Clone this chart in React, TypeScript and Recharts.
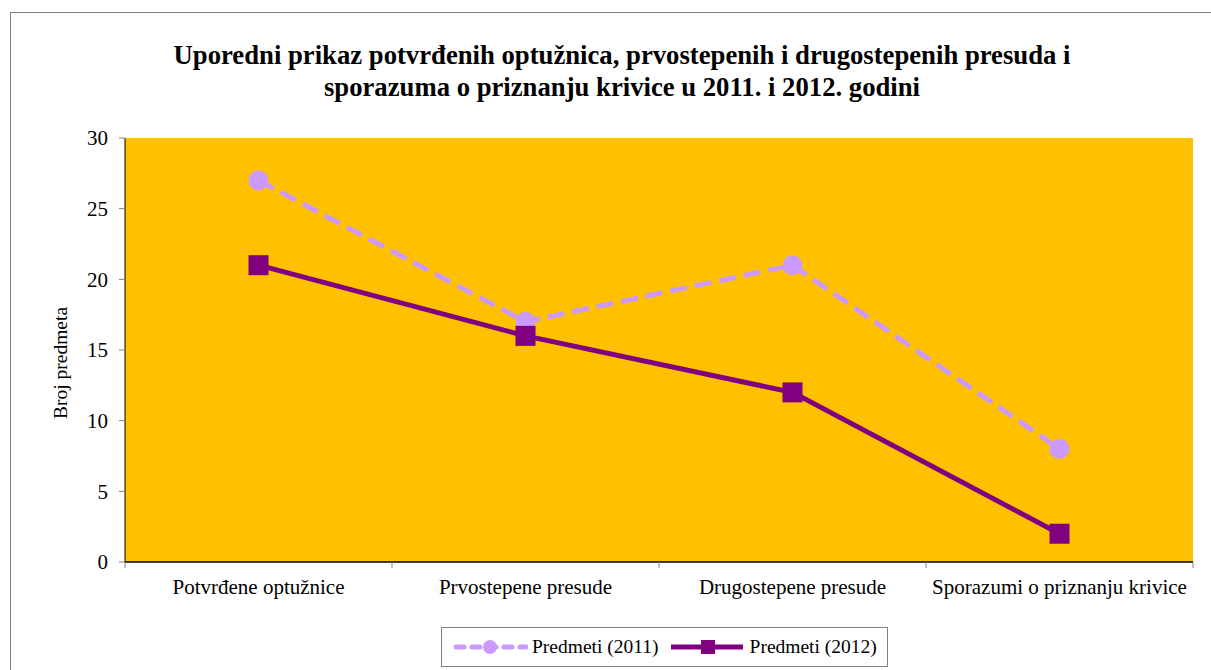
import { ComposedChart, Line, XAxis, YAxis, CartesianGrid, Legend } from 'recharts';

const categories = [
  'Potvrđene optužnice',
  'Prvostepene presude',
  'Drugostepene presude',
  'Sporazumi o priznanju krivice',
];
const predmeti2011 = [27, 17, 21, 8];
const predmeti2012 = [21, 16, 12, 2];
const yTicks = [0, 5, 10, 15, 20, 25, 30];

const data = categories.map((name, i) => ({
  name,
  y2011: predmeti2011[i],
  y2012: predmeti2012[i],
}));

const FONT = '"Liberation Serif", "Times New Roman", serif';
const W = 1211;
const H = 670;
const MARGIN = { top: 138, right: 18, bottom: 0, left: 0 };
const Y_AXIS_W = 125;
const X_AXIS_H = 108;
const PLOT_BOTTOM = H - MARGIN.bottom - X_AXIS_H;
const BAND = (W - MARGIN.left - MARGIN.right - Y_AXIS_W) / categories.length;

const LIGHT = '#CC99FF';
const DARK = '#800080';

function CategoryTick({ x, payload, index }: any) {
  const half = BAND / 2;
  return (
    <g>
      <line x1={x - half} x2={x - half} y1={PLOT_BOTTOM} y2={PLOT_BOTTOM + 6} stroke="#808080" />
      {index === categories.length - 1 && (
        <line x1={x + half} x2={x + half} y1={PLOT_BOTTOM} y2={PLOT_BOTTOM + 6} stroke="#808080" />
      )}
      <text x={x} y={PLOT_BOTTOM + 32} textAnchor="middle" fontSize={21} fontFamily={FONT} fill="#000">
        {payload.value}
      </text>
    </g>
  );
}

function YLabel({ viewBox }: any) {
  const cx = viewBox.x + 60;
  const cy = viewBox.y + viewBox.height / 2 + 13;
  return (
    <text
      x={cx}
      y={cy}
      transform={`rotate(-90 ${cx} ${cy})`}
      textAnchor="middle"
      dominantBaseline="central"
      fontSize={19.5}
      fontFamily={FONT}
      fill="#000"
    >
      Broj predmeta
    </text>
  );
}

function SquareDot({ cx, cy, index }: any) {
  return <rect key={`sq-${index}`} x={cx - 10} y={cy - 10} width={20} height={20} fill={DARK} />;
}

function CircleDot({ cx, cy, index }: any) {
  return <circle key={`ci-${index}`} cx={cx} cy={cy} r={10} fill={LIGHT} />;
}

function LegendBox({ payload }: any) {
  return (
    <div
      style={{
        display: 'flex',
        alignItems: 'center',
        height: 40,
        boxSizing: 'border-box',
        border: '1px solid #808080',
        background: '#fff',
        paddingLeft: 11,
        fontFamily: FONT,
        fontSize: 19.5,
        color: '#000',
        whiteSpace: 'nowrap',
      }}
    >
      {(payload || []).map((entry: any, i: number) => (
        <div key={entry.value} style={{ display: 'flex', alignItems: 'center', marginRight: 12 }}>
          <svg width={75} height={20} style={{ marginRight: 4 }}>
            {i === 0 ? (
              <>
                <line x1={3} x2={73} y1={10} y2={10} stroke={LIGHT} strokeWidth={5} strokeDasharray="8 8" strokeLinecap="round" />
                <circle cx={37} cy={10} r={7} fill={LIGHT} />
              </>
            ) : (
              <>
                <line x1={0} x2={72} y1={10} y2={10} stroke={DARK} strokeWidth={5} />
                <rect x={30} y={3} width={14} height={14} fill={DARK} />
              </>
            )}
          </svg>
          <span>{entry.value}</span>
        </div>
      ))}
    </div>
  );
}

export default function App() {
  return (
    <div style={{ position: 'absolute', left: 0, top: 0, width: W, height: H, overflow: 'hidden', background: '#fff' }}>
      <div
        style={{
          position: 'absolute',
          left: 10,
          top: 12,
          width: W,
          height: H,
          border: '1px solid #808080',
        }}
      />
      <div
        style={{
          position: 'absolute',
          left: 0,
          top: 39,
          width: 1244,
          textAlign: 'center',
          fontFamily: FONT,
          fontWeight: 'bold',
          fontSize: 26.7,
          lineHeight: '32px',
          color: '#000',
        }}
      >
        Uporedni prikaz potvrđenih optužnica, prvostepenih i drugostepenih presuda i
        <br />
        sporazuma o priznanju krivice u 2011. i 2012. godini
      </div>
      <div style={{ position: 'absolute', left: 0, top: 0 }}>
        <ComposedChart width={W} height={H} data={data} margin={MARGIN}>
          <CartesianGrid fill="#FFC000" stroke="none" horizontal={false} vertical={false} />
          <XAxis
            dataKey="name"
            scale="band"
            height={X_AXIS_H}
            axisLine={{ stroke: '#000', strokeWidth: 1.5 }}
            tickLine={false}
            tick={<CategoryTick />}
            interval={0}
          />
          <YAxis
            width={Y_AXIS_W}
            domain={[0, 30]}
            ticks={yTicks}
            interval={0}
            axisLine={{ stroke: '#000', strokeWidth: 1 }}
            tickLine={{ stroke: '#808080' }}
            tickSize={6}
            tickMargin={11}
            tick={{ fill: '#000', fontSize: 21, fontFamily: FONT }}
            label={<YLabel />}
          />
          <Legend
            layout="horizontal"
            verticalAlign="middle"
            align="center"
            content={<LegendBox />}
            wrapperStyle={{ position: 'absolute', left: 441, top: 627, width: 447, height: 40 }}
          />
          <Line
            type="linear"
            dataKey="y2011"
            name="Predmeti (2011)"
            stroke={LIGHT}
            strokeWidth={5}
            strokeDasharray="17 8"
            dot={<CircleDot />}
            activeDot={false}
            isAnimationActive={false}
          />
          <Line
            type="linear"
            dataKey="y2012"
            name="Predmeti (2012)"
            stroke={DARK}
            strokeWidth={5}
            dot={<SquareDot />}
            activeDot={false}
            isAnimationActive={false}
          />
        </ComposedChart>
      </div>
    </div>
  );
}
